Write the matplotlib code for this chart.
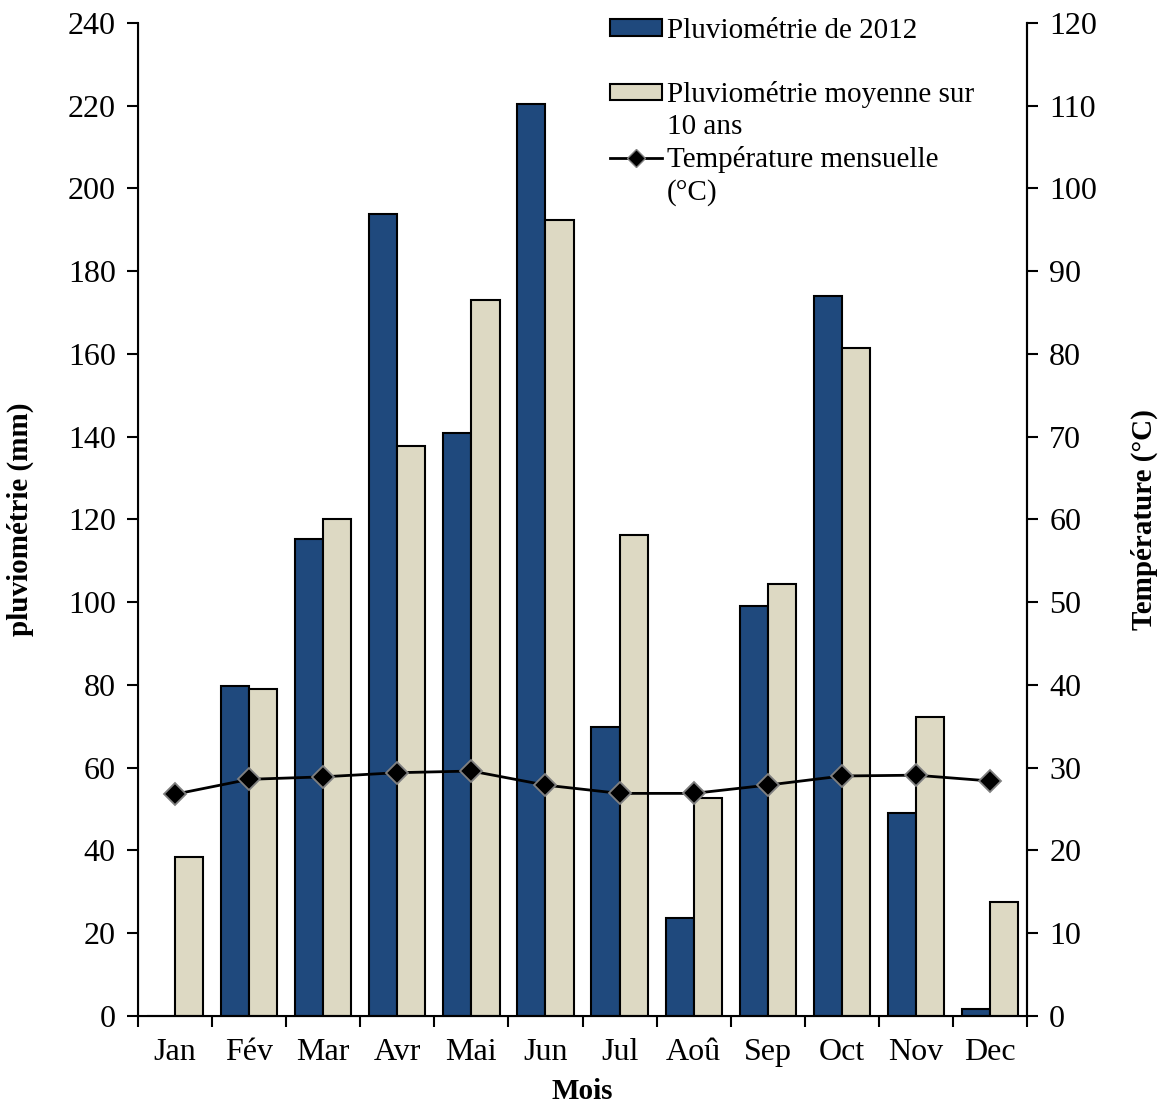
import matplotlib.pyplot as plt
import numpy as np
from matplotlib.patches import Patch
from matplotlib.lines import Line2D

plt.rcParams['font.family'] = ['Liberation Serif', 'DejaVu Serif']

# data
mois = ['Jan', 'Fév', 'Mar', 'Avr', 'Mai', 'Jun', 'Jul', 'Aoû', 'Sep', 'Oct', 'Nov', 'Dec']
pluvio_2012 = [0, 79.8, 115.3, 193.8, 140.9, 220.4, 69.8, 23.7, 99.1, 174.0, 49.1, 1.7]
pluvio_moy = [38.4, 79.0, 120.1, 137.8, 173.1, 192.4, 116.3, 52.7, 104.4, 161.5, 72.3, 27.6]
temperature = [26.8, 28.6, 28.9, 29.4, 29.6, 27.9, 26.9, 26.9, 27.9, 29.0, 29.1, 28.4]

bleu = '#1f497d'
beige = '#ddd9c3'
fs = 23
fs_lab = 21

fig = plt.figure(figsize=(11.66, 11.06), dpi=100)
ax = fig.add_axes([0.1184, 0.0814, 0.7624, 0.8978])
x = np.arange(len(mois))
w = 0.38

ax.bar(x - w / 2, pluvio_2012, w, color=bleu, edgecolor='black', linewidth=1.5, zorder=2)
ax.bar(x + w / 2, pluvio_moy, w, color=beige, edgecolor='black', linewidth=1.5, zorder=2)

ax.set_xlim(-0.5, len(mois) - 0.5)
ax.set_ylim(0, 240)
ax.set_yticks(np.arange(0, 241, 20))
ax.set_xticks(x)
ax.set_xticklabels(mois)
ax.set_xticks(np.arange(-0.5, len(mois), 1), minor=True)
ax.tick_params(axis='x', which='major', length=0, pad=16, labelsize=fs)
ax.tick_params(axis='x', which='minor', length=8, width=1.5, direction='out')
ax.tick_params(axis='y', length=8, width=1.5, direction='out', labelsize=fs, pad=8)
for s in ['left', 'bottom', 'right']:
    ax.spines[s].set_linewidth(1.5)
ax.spines['top'].set_visible(False)
ax.set_ylabel('pluviométrie (mm)', fontsize=fs_lab, fontweight='bold', labelpad=24)
ax.set_xlabel('Mois', fontsize=fs_lab, fontweight='bold', labelpad=8)

ax2 = ax.twinx()
ax2.plot(x, temperature, color='black', linewidth=2, marker='D', markersize=11,
         markerfacecolor='black', markeredgecolor='#808080', markeredgewidth=1.3, zorder=3)
ax2.set_ylim(0, 120)
ax2.set_yticks(np.arange(0, 121, 10))
ax2.tick_params(axis='y', length=8, width=1.5, direction='out', labelsize=fs, pad=8)
ax2.spines['top'].set_visible(False)
ax2.spines['right'].set_linewidth(1.5)
ax2.set_ylabel('Température (°C)', fontsize=fs_lab, fontweight='bold', labelpad=24)

vide = Patch(facecolor='none', edgecolor='none')
handles = [Patch(facecolor=bleu, edgecolor='black', linewidth=1.5), vide,
           Patch(facecolor=beige, edgecolor='black', linewidth=1.5), vide,
           Line2D([], [], color='black', linewidth=2, marker='D', markersize=9,
                  markerfacecolor='black', markeredgecolor='#808080'), vide]
labels = ['Pluviométrie de 2012', ' ', 'Pluviométrie moyenne sur', '10 ans',
          'Température mensuelle', '(°C)']
leg = ax2.legend(handles, labels, loc='upper left', bbox_to_anchor=(0.5175, 1.017),
                 frameon=False, fontsize=fs_lab, handlelength=1.78, handleheight=0.48,
                 handletextpad=0.17, labelspacing=0.2, borderaxespad=0)

fig.savefig('out.png', dpi=100)
